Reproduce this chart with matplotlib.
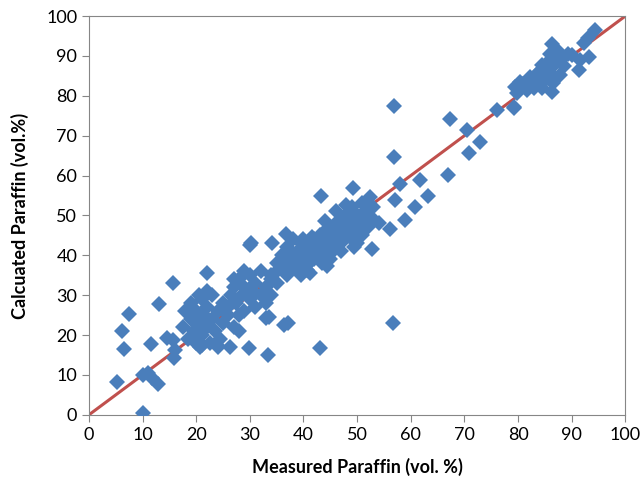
import numpy as np
import matplotlib.pyplot as plt

plt.rcParams.update({
    "font.family": "Lato",
    "font.size": 13,
})

# measured vs calculated paraffin (vol. %)
measured_low = [5.2, 6.1, 6.6, 7.5, 10.1, 10.1, 11.1, 11.7, 12.8, 11.6, 13.1,
                15.7, 14.5, 15.7, 16.0, 15.9, 22.0, 20.7, 23.8, 26.3, 29.9,
                30.0, 33.1, 33.4, 33.5, 36.3, 37.2, 43.0]
calc_low = [8.3, 20.9, 16.5, 25.3, 0.5, 10.0, 10.5, 9.2, 7.8, 17.8, 27.8,
            33.0, 19.2, 18.8, 16.3, 14.2, 35.5, 17.1, 17.5, 17.1, 16.7,
            42.6, 24.2, 15.0, 24.6, 22.5, 23.0, 16.7]

measured_a = [17.5, 18.0, 18.5, 19.0, 19.0, 19.5, 20.0, 20.0, 20.5, 21.0,
              21.0, 21.5, 22.0, 22.0, 22.5, 23.0, 23.0, 23.5, 24.0, 24.5,
              25.0, 25.0, 26.0, 21.0, 22.0, 27.0, 28.0, 24.0, 20.5]
calc_a = [22.0, 26.0, 19.0, 24.0, 28.0, 21.0, 18.0, 26.0, 23.0, 29.0,
          20.0, 25.0, 22.0, 27.0, 18.0, 24.0, 30.0, 21.0, 26.0, 19.0,
          23.0, 28.0, 25.0, 17.5, 31.0, 22.0, 21.0, 17.0, 30.0]

measured_b = [26.0, 26.5, 27.0, 27.5, 28.0, 28.5, 29.0, 29.0, 30.0, 30.0,
              30.5, 31.0, 31.0, 32.0, 32.0, 33.0, 33.0, 34.0, 34.0, 35.0,
              28.0, 29.0, 27.0, 34.1, 30.3, 36.8]
calc_b = [27.0, 30.0, 32.0, 28.0, 34.0, 30.0, 26.0, 32.0, 29.0, 35.0,
          31.0, 27.0, 33.0, 30.0, 36.0, 32.0, 28.0, 34.0, 30.0, 36.0,
          25.0, 36.0, 34.0, 43.0, 43.0, 45.4]

measured_c = [34, 35, 35, 36, 36, 37, 37, 37, 38, 38, 38, 39, 39, 39, 40, 40,
              40, 40, 41, 41, 41, 42, 42, 42, 43, 43, 43, 44, 44, 44, 45, 45,
              45, 45, 46, 46, 46, 47, 47, 47, 47, 48, 48, 48, 49, 49, 49, 50,
              50, 50, 51, 51, 51, 52, 52, 53, 53, 54, 41.2, 44.3, 40.6, 52.7,
              43.3, 49.3, 52.4, 36.5, 37.5, 38.5, 39.5, 40.5, 41.5, 42.5,
              43.5, 44.5, 45.5, 46.5, 47.5, 48.5, 49.5, 50.5, 37.5, 39.5,
              41.5, 43.5, 45.5, 47.5, 49.5, 51.5, 46.0, 48.0, 50.0, 44.0]
calc_c = [35, 38, 33, 40, 37, 35, 39, 42, 37, 40, 44, 36, 41, 38, 42, 39,
          44, 36, 40, 43, 38, 41, 44, 39, 42, 45, 40, 43, 41, 46, 44, 42,
          47, 39, 45, 43, 48, 46, 43, 49, 41, 45, 47, 50, 44, 48, 52, 46,
          50, 43, 48, 53, 45, 50, 47, 49, 52, 48, 35.6, 37.2, 36.3, 41.6,
          55.0, 56.8, 54.7, 38.5, 41.0, 39.0, 43.0, 41.0, 44.5, 42.0,
          44.0, 45.0, 43.0, 46.5, 45.0, 49.0, 46.5, 48.0, 36.5, 35.0,
          40.5, 38.0, 41.0, 44.0, 42.0, 51.0, 51.0, 52.5, 47.5, 48.5]

measured_d = [56.8, 56.8, 56.6, 58.0, 61.8, 63.3, 60.8, 59.0, 56.2, 57.1,
              67.0, 67.4, 70.5, 72.9, 70.8, 76.1, 79.2, 79.2]
calc_d = [77.4, 64.7, 23.0, 58.0, 58.9, 55.0, 52.0, 48.9, 46.5, 53.9,
          60.2, 74.3, 71.4, 68.5, 65.6, 76.4, 76.9, 77.3]

measured_e = [94.4, 93.1, 92.3, 89.4, 90.0, 91.6, 93.2, 91.3, 86.3, 86.0,
              87.6, 88.2, 86.3, 84.5, 83.5, 82.3, 80.4, 79.5, 79.8, 81.7,
              82.9, 84.5, 86.3, 86.6, 85.0, 87.9, 85.5, 84.0, 83.0, 81.0,
              82.0, 83.5, 85.0, 86.5, 84.0, 85.5, 87.0, 88.5]
calc_e = [96.5, 94.4, 93.3, 90.6, 90.2, 89.0, 89.8, 86.5, 93.1, 90.6,
          91.0, 89.4, 87.3, 87.7, 85.6, 84.8, 83.5, 82.3, 80.6, 81.5,
          81.9, 81.9, 81.0, 83.1, 84.0, 85.2, 86.0, 83.0, 82.5, 83.0,
          83.0, 84.0, 86.5, 85.0, 86.0, 88.5, 89.0, 87.5]

measured = measured_low + measured_a + measured_b + measured_c + measured_d + measured_e
calculated = calc_low + calc_a + calc_b + calc_c + calc_d + calc_e

fig, ax = plt.subplots(figsize=(6.4, 4.88), dpi=100)
fig.subplots_adjust(left=0.139, right=0.977, bottom=0.150, top=0.967)

ax.plot([0, 100], [0, 100], color="#C0504D", linewidth=2.2, zorder=2)
ax.plot(measured, calculated, "D", color="#4A7EBB", markersize=8.4,
        markeredgewidth=0, zorder=3)

ax.set_xlim(0, 100)
ax.set_ylim(0, 100)
ax.set_xticks(np.arange(0, 101, 10))
ax.set_yticks(np.arange(0, 101, 10))
for s in ax.spines.values():
    s.set_color("#868686")
ax.tick_params(color="#868686", length=5, labelsize=13)
ax.set_xlabel("Measured Paraffin (vol. %)", fontweight="bold", fontsize=13,
              labelpad=11)
ax.set_ylabel("Calcuated Paraffin (vol.%)", fontweight="bold", fontsize=13,
              labelpad=12)

fig.savefig("out.png", dpi=100)
